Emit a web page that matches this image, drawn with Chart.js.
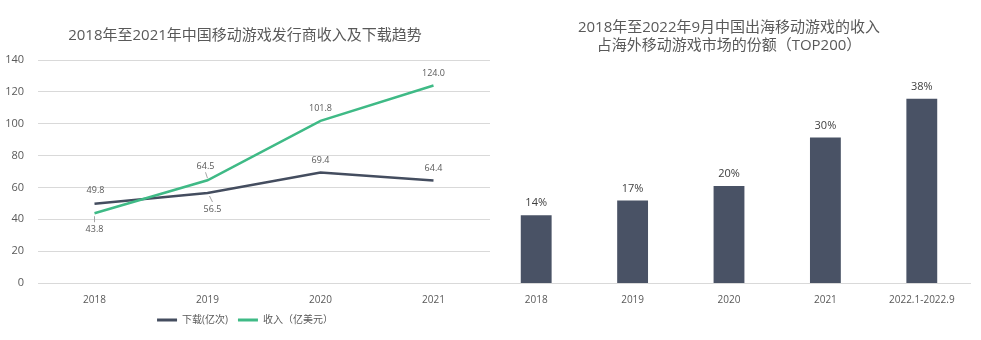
<!DOCTYPE html>
<html>
<head>
<meta charset="utf-8">
<script src="https://cdn.jsdelivr.net/npm/chart.js@4"></script>
<style>
body{margin:0;background:#fff;}
#wrapLeft{position:absolute;left:0;top:0;width:490px;height:340px;}
#wrapRight{position:absolute;left:488px;top:0;width:493px;height:340px;}
</style>
</head>
<body>
<div id="wrapLeft"><canvas id="graficoTendencia"></canvas></div>
<div id="wrapRight"><canvas id="graficoCuota"></canvas></div>
<script>
// datos
var anios = ['2018', '2019', '2020', '2021'];
var descargas = [49.8, 56.5, 69.4, 64.4];
var ingresos = [43.8, 64.5, 101.8, 124.0];
var ticksY = [0, 20, 40, 60, 80, 100, 120, 140];

var periodos = ['2018', '2019', '2020', '2021', '2022.1-2022.9'];
var cuota = [14, 17, 20, 30, 38];

var fuente = "'Open Sans', 'Noto Sans CJK SC', sans-serif";
var gris = '#595959';

// donde va cada etiqueta: desplazamiento y linea guia
var etqDescargas = [
    {dx: 1, dy: -13},
    {dx: 5, dy: 16, guia: [2, 3, 5, 9]},
    {dx: 0, dy: -12},
    {dx: 0, dy: -12}
];
var etqIngresos = [
    {dx: 0, dy: 16, guia: [0, 3, 0, 9]},
    {dx: -2, dy: -14, guia: [0, -2, -2, -8]},
    {dx: 0, dy: -12},
    {dx: 0, dy: -12}
];

var etiquetasLinea = {
    id: 'etiquetasLinea',
    afterDatasetsDraw: function (chart) {
        var ctx = chart.ctx;
        ctx.save();
        ctx.font = '9px ' + fuente;
        ctx.fillStyle = gris;
        ctx.textAlign = 'center';
        ctx.textBaseline = 'middle';
        chart.data.datasets.forEach(function (ds, i) {
            var meta = chart.getDatasetMeta(i);
            meta.data.forEach(function (pt, j) {
                var e = ds.etiquetas[j];
                if (e.guia) {
                    ctx.strokeStyle = '#a6a6a6';
                    ctx.lineWidth = 1;
                    ctx.beginPath();
                    ctx.moveTo(pt.x + e.guia[0], pt.y + e.guia[1]);
                    ctx.lineTo(pt.x + e.guia[2], pt.y + e.guia[3]);
                    ctx.stroke();
                }
                ctx.fillText(ds.data[j].toFixed(1), pt.x + e.dx, pt.y + e.dy);
            });
        });
        ctx.restore();
    }
};

var etiquetasBarra = {
    id: 'etiquetasBarra',
    afterDatasetsDraw: function (chart) {
        var ctx = chart.ctx;
        var ds = chart.data.datasets[0];
        ctx.save();
        ctx.font = '11px ' + fuente;
        ctx.fillStyle = '#404040';
        ctx.textAlign = 'center';
        ctx.textBaseline = 'middle';
        chart.getDatasetMeta(0).data.forEach(function (bar, j) {
            ctx.fillText(ds.data[j] + '%', bar.x, bar.y - 12);
        });
        ctx.restore();
    }
};

function graficoTendencia() {
    var ctx = document.getElementById('graficoTendencia').getContext('2d');
    new Chart(ctx, {
        type: 'line',
        data: {
            labels: anios,
            datasets: [{
                label: '下载(亿次)',
                data: descargas,
                borderColor: '#444d5f',
                backgroundColor: '#444d5f',
                borderWidth: 2.5,
                pointRadius: 0,
                order: 1,
                etiquetas: etqDescargas
            }, {
                label: '收入（亿美元）',
                data: ingresos,
                borderColor: '#3fba86',
                backgroundColor: '#3fba86',
                borderWidth: 2.5,
                pointRadius: 0,
                order: 0,
                etiquetas: etqIngresos
            }]
        },
        options: {
            responsive: true,
            maintainAspectRatio: false,
            animation: false,
            layout: {padding: {left: 0, right: 0, top: 0, bottom: 5}},
            plugins: {
                tooltip: {enabled: false},
                title: {
                    display: true,
                    text: '2018年至2021年中国移动游戏发行商收入及下载趋势',
                    color: gris,
                    font: {family: fuente, size: 15, weight: 'normal'},
                    padding: {top: 27, bottom: 15}
                },
                legend: {
                    display: true,
                    position: 'bottom',
                    labels: {
                        boxWidth: 20,
                        boxHeight: 3,
                        padding: 10,
                        color: gris,
                        font: {family: fuente, size: 10},
                        generateLabels: function (chart) {
                            return chart.data.datasets.map(function (ds, i) {
                                return {
                                    text: ds.label,
                                    fillStyle: ds.borderColor,
                                    strokeStyle: ds.borderColor,
                                    lineWidth: 0,
                                    hidden: false,
                                    datasetIndex: i,
                                    fontColor: gris
                                };
                            });
                        }
                    }
                }
            },
            scales: {
                x: {
                    offset: true,
                    grid: {display: false},
                    border: {display: false},
                    ticks: {color: gris, font: {family: fuente, size: 10}, padding: 3},
                    afterFit: function (s) { s.height = 22; }
                },
                y: {
                    min: 0,
                    max: 140,
                    grid: {color: '#d9d9d9', drawTicks: false},
                    border: {display: false},
                    ticks: {color: gris, font: {family: fuente, size: 11}, padding: 14},
                    afterBuildTicks: function (s) {
                        s.ticks = ticksY.map(function (v) { return {value: v}; });
                    },
                    afterFit: function (s) { s.width = 38; }
                }
            }
        },
        plugins: [etiquetasLinea]
    });
}

function graficoCuota() {
    var ctx = document.getElementById('graficoCuota').getContext('2d');
    new Chart(ctx, {
        type: 'bar',
        data: {
            labels: periodos,
            datasets: [{
                label: '份额',
                data: cuota,
                backgroundColor: '#495265',
                categoryPercentage: 1,
                barPercentage: 0.32
            }]
        },
        options: {
            responsive: true,
            maintainAspectRatio: false,
            animation: false,
            layout: {padding: {left: 0, right: 11, top: 0, bottom: 0}},
            plugins: {
                tooltip: {enabled: false},
                legend: {display: false},
                title: {
                    display: true,
                    text: ['2018年至2022年9月中国出海移动游戏的收入', '占海外移动游戏市场的份额（TOP200）'],
                    color: gris,
                    font: {family: fuente, size: 15, weight: 'normal', lineHeight: 1.2},
                    padding: {top: 19, bottom: 5}
                }
            },
            scales: {
                x: {
                    grid: {display: false},
                    border: {display: true, color: '#d9d9d9', width: 1},
                    ticks: {color: gris, font: {family: fuente, size: 10}, padding: 3},
                    afterFit: function (s) { s.height = 57; }
                },
                y: {
                    display: false,
                    min: 0,
                    max: 46
                }
            }
        },
        plugins: [etiquetasBarra]
    });
}

graficoTendencia();
graficoCuota();
</script>
</body>
</html>
